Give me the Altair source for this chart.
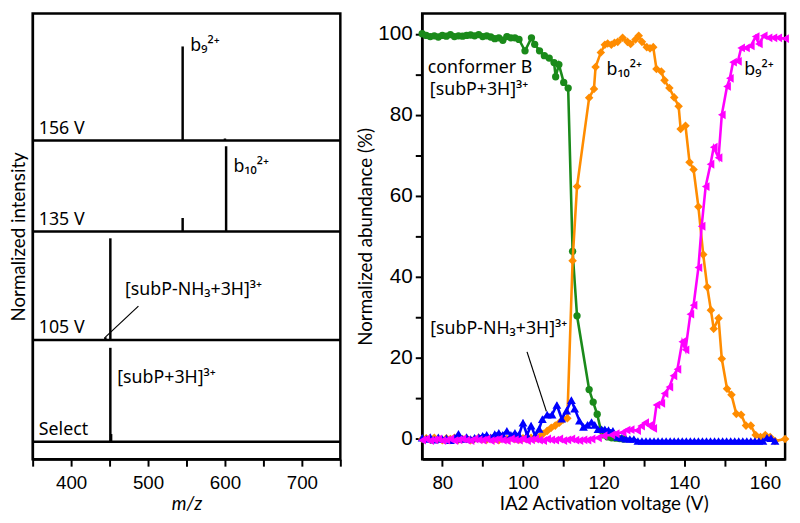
import altair as alt
import pandas as pd

# ---------------- Left panel: stacked mass spectra ----------------
panel_names = ["Select", "105 V", "135 V", "156 V"]
panel_base = [18, 123, 235, 329]          # stack offsets (arbitrary units)
stack_top = 460

peak_panel = ["Select", "Select", "105 V", "105 V", "135 V", "135 V", "156 V", "156 V"]
peak_mz = [451, 452, 451, 444.5, 601.5, 545, 545, 600]
peak_height = [97, 8, 105, 3, 88, 14, 97, 2]

# ---------------- Right panel: breakdown curves ----------------
green_v = [75, 76, 77, 78, 79, 80, 81, 82, 83, 84, 85, 86, 87, 88, 89, 90, 91, 92, 93, 94,
           95, 96, 97, 98, 99, 100.5, 102.1, 102.9, 104.1, 105.3, 106.5, 107.7, 108.1, 108.9,
           110.1, 111.2, 112.3, 113.4, 116.4, 117.4, 118.4, 119.3, 120, 121, 122, 123, 124, 125]
green_y = [100, 99.6, 99.3, 99.5, 99.2, 99.6, 99.4, 99.8, 99.3, 99.5, 99.4, 99.6, 99.7, 99.5,
           99.8, 99.3, 99.5, 99.2, 98.8, 99.0, 98.4, 99.3, 99.0, 99.0, 98.6, 95.8, 99.0, 97.4,
           95.8, 94.6, 94.0, 92.9, 89.4, 92.4, 88.0, 86.6, 46.3, 30.4, 12.2, 9.1, 6.1, 2.2, 1.0,
           0.5, 0.3, 0.2, 0.1, 0]

orange_v = [75, 76, 77, 78, 79, 80, 81, 82, 83, 84, 85, 86, 87, 88, 89, 90, 91, 92, 93, 94,
            95, 96, 97, 98, 99, 100, 101, 102, 103, 104, 105, 106, 107, 108, 109, 110, 111,
            112.3, 113.4, 116.4, 117.6, 118, 119.3, 120.3, 121, 121.9, 122.7, 123.5, 124.7,
            125.9, 126.7, 127.9, 128.7, 129.5, 130.7, 131.5, 132.3, 133.1, 134.3, 135.1, 136.3,
            137.5, 138.6, 139.1, 140.3, 141.3, 142.3, 143.5, 144.7, 145.7, 146.6, 147.3, 148.5,
            149.3, 150.6, 151.7, 152.9, 154.1, 155.3, 156.5, 157.7, 158.9, 160.1, 161.3, 162.5, 165]
orange_y = [0, 0.2, -0.2, 0.3, 0, -0.3, 0.2, 0, 0.3, -0.2, 0, 0.2, -0.3, 0, 0.3, 0, -0.2, 0.2,
            0, -0.3, 0.2, 0, 0.3, 0, -0.2, 0.2, 0, 0.3, 0.2, 0.5, 1.3, 2.0, 2.8, 3.3, 4.0, 4.8, 5.1,
            44, 62.3, 84.2, 86.4, 91.8, 95.4, 97.3, 97.6, 97.3, 97.8, 98, 99, 98, 97.5, 98.6, 99.5,
            98, 96.7, 96.4, 96.7, 91.3, 90.7, 88.5, 86.6, 84.3, 82.1, 76.5, 77.3, 68.3, 66.5,
            57.3, 45.5, 37.5, 31.8, 27.2, 29.8, 19.8, 12.4, 10.9, 6.2, 6.0, 3.3, 3.3, 1.0, 0.5,
            1.0, 0.5, -0.5, 0]

blue_v = [75, 76, 77, 78, 79, 80, 81, 82, 83, 84, 85, 86, 87, 88, 89, 90, 91, 92, 93, 94, 95,
          96, 97, 98, 99, 100, 101, 102, 103, 104, 104.8, 106, 107.2, 108.4, 109.6, 110.8, 112,
          112.8, 114, 115, 116, 117, 117.8, 118.6, 119.5, 120.3, 121.2, 122.3, 123.5, 124.5,
          125.5, 126.5, 127.5, 128.5, 129.5, 130.5, 131.5, 132.5, 133.5, 134.5, 135.5, 136.5,
          137.5, 138.5, 139.5, 140.5, 141.5, 142.5, 143.5, 144.5, 145.5, 146.5, 147.5, 148.5,
          149.5, 150.5, 151.5, 152.5, 153.5, 154.5, 155.5, 156.5, 157.5, 158.5, 159.5, 160.5,
          161.5, 162.5]
blue_y = [0.3, 0, 0.5, -0.2, 0.4, 0, 0.2, -0.3, 0.3, 1.3, 0, 0.5, 0, 0.3, 0.5, 0.8, 1.0, 0.4,
          1.2, 1.5, 1.0, 2.0, 1.0, 1.5, 1.0, 4.0, 1.0, 3.3, 0.8, 2.5, 4.9, 6.0, 6.0, 8.4, 5.0, 7.0,
          9.6, 7.5, 4.5, 3.0, 3.5, 4.2, 3.5, 2.4, 2.4, 2.4, 2.2, 2.0, 0.5, 0.3, 0.1, 0, 0, -0.5,
          -0.5, -0.5, -0.5, -0.5, -0.5, -0.5, -0.5, -0.5, -0.5, -0.5, -0.5, -0.5, -0.5, -0.5,
          -0.5, -0.5, -0.5, -0.5, -0.5, -0.5, -0.5, -0.5, -0.5, -0.5, -0.5, -0.5, -0.5, -0.5,
          -0.5, -0.5, -0.5, 0.3, 0.2, -0.5]

magenta_v = [75, 76, 77, 78, 79, 80, 81, 82, 83, 84, 85, 86, 87, 88, 89, 90, 91, 92, 93, 94,
             95, 96, 97, 98, 99, 100, 101, 102, 103, 104, 105, 106, 107, 108, 109, 110, 111, 112,
             113, 114, 115, 116, 117, 118.6, 120, 121.9, 123, 124.7, 125.7, 126.7, 128.3, 129.3,
             130.3, 131.3, 132.3, 133.1, 134.3, 135.1, 136.3, 137.3, 138.3, 139.5, 140.3, 141.5,
             142.3, 143.5, 144.3, 145.3, 146.5, 147.3, 148.5, 149.3, 150.6, 151.3, 152.1, 153.3,
             154.1, 155.3, 156.5, 157.7, 158.5, 159.7, 160.9, 162.1, 163.3, 165]
magenta_y = [-0.3, 0, -0.4, -0.2, 0, -0.4, -0.3, 0, -0.4, -0.2, 0, -0.3, -0.4, 0, -0.2, -0.3,
             0, -0.4, -0.2, 0, -0.3, -0.4, 0, -0.2, -0.3, 0, -0.4, -0.2, 0, -0.3, -0.4, 0, -0.2,
             -0.3, 0, -0.4, -0.2, 0, -0.3, -0.4, -0.2, -0.3, 0, 0.3, 0.8, 1.0, 1.3, 1.6, 2.2, 2.3,
             2.1, 3.2, 4.0, 3.3, 2.6, 8.4, 8.8, 11.2, 12.8, 15.6, 17.2, 24, 22, 30.8, 33, 42.3,
             52.5, 62.3, 67.8, 72, 69.4, 80, 87, 89, 93, 93.2, 96.5, 96.5, 97, 99.3, 97.5, 99.5,
             99, 99, 99, 98.8]

FONT_TICK = "Liberation Sans"
FONT_TEXT = "Noto Sans"
FONT_TITLE = "Lato"

# ---------------- build left chart ----------------
base_lookup = dict(zip(panel_names, panel_base))
peaks = pd.DataFrame({
    "mz": peak_mz,
    "y0": [base_lookup[p] for p in peak_panel],
})
peaks["y1"] = peaks["y0"] + pd.Series(peak_height)

lines_df = pd.DataFrame({"y": panel_base})
panel_lbl = pd.DataFrame({"text": panel_names, "mz": [358] * 4,
                          "y": [b + 3 for b in panel_base]})

lx_scale = alt.Scale(domain=[350, 750], nice=False, zero=False)
lx_axis = alt.Axis(values=[350, 400, 450, 500, 550, 600, 650, 700, 750],
                   labelExpr="datum.value % 100 == 0 ? datum.label : ''",
                   labelOverlap=False,
                   title="m/z", titleFontStyle="italic", grid=False)
ly_scale = alt.Scale(domain=[0, stack_top], nice=False, zero=False)
ly_axis = alt.Axis(title="Normalized intensity", labels=False, ticks=False, grid=False,
                   titlePadding=4)


def LX(field):
    return alt.X(field, scale=lx_scale, axis=lx_axis)


def LY(field):
    return alt.Y(field, scale=ly_scale, axis=ly_axis)


W_L, W_R, H = 312, 368, 452

sep = alt.Chart(lines_df).mark_rule(color="black", strokeWidth=2.5).encode(y=LY("y:Q"))
pk = alt.Chart(peaks).mark_rule(color="black", strokeWidth=2.5).encode(
    x=LX("mz:Q"), y=LY("y0:Q"), y2="y1:Q")
plbl = alt.Chart(panel_lbl).mark_text(align="left", baseline="bottom", font=FONT_TEXT,
                                      fontSize=18, color="black").encode(
    x=LX("mz:Q"), y=LY("y:Q"), text="text:N")

left_ann = pd.DataFrame({
    "text": ["b₉²⁺", "b₁₀²⁺", "[subP-NH₃+3H]³⁺", "[subP+3H]³⁺"],
    "mz": [555, 611, 470, 460],
    "y": [426, 302, 175, 84],
})
lann = alt.Chart(left_ann).mark_text(align="left", baseline="middle", font=FONT_TEXT,
                                     fontSize=18, color="black").encode(
    x=LX("mz:Q"), y=LY("y:Q"), text="text:N")
left_lead = pd.DataFrame({"mz": [487.5, 444.5], "y": [158, 126]})
llead = alt.Chart(left_lead).mark_line(color="black", strokeWidth=1.2).encode(
    x=LX("mz:Q"), y=LY("y:Q"))

left = alt.layer(sep, pk, plbl, lann, llead).properties(width=W_L, height=H)

# ---------------- build right chart ----------------
rx_scale = alt.Scale(domain=[75, 165], nice=False, zero=False)
rx_axis = alt.Axis(values=list(range(80, 170, 10)),
                   labelExpr="datum.value % 20 == 0 ? datum.label : ''",
                   labelOverlap=False,
                   title="IA2 Activation voltage (V)", grid=False)
ry_scale = alt.Scale(domain=[-5, 105], nice=False, zero=False)
ry_axis = alt.Axis(values=list(range(0, 110, 10)),
                   labelExpr="datum.value % 20 == 0 ? datum.label : ''",
                   labelOverlap=False, labelPadding=3,
                   title="Normalized abundance (%)", grid=False, labelFontSize=21)


def series(v, y, color, shape, size):
    df = pd.DataFrame({"v": v, "y": y})
    return alt.Chart(df).mark_line(
        color=color, strokeWidth=2.6,
        point=alt.OverlayMarkDef(filled=True, color=color, shape=shape, size=size),
    ).encode(
        x=alt.X("v:Q", scale=rx_scale, axis=rx_axis),
        y=alt.Y("y:Q", scale=ry_scale, axis=ry_axis),
        order="v:Q",
    )


g = series(green_v, green_y, "#1a8a1a", "circle", 55)
o = series(orange_v, orange_y, "#ff8c00", "diamond", 75)
b = series(blue_v, blue_y, "#0000ff", "triangle-up", 80)
m = series(magenta_v, magenta_y, "#ff00ff", "triangle-left", 80)

right_ann = pd.DataFrame({
    "text": ["conformer B", "[subP+3H]³⁺", "b₁₀²⁺", "b₉²⁺", "[subP-NH₃+3H]³⁺"],
    "v": [76.4, 76.9, 120.7, 154.9, 77.0],
    "y": [91.5, 86.0, 91.0, 91.0, 27.2],
})
rann = alt.Chart(right_ann).mark_text(align="left", baseline="middle", font=FONT_TEXT,
                                      fontSize=18, color="black").encode(
    x=alt.X("v:Q", scale=rx_scale, axis=rx_axis),
    y=alt.Y("y:Q", scale=ry_scale, axis=ry_axis), text="text:N")
right_lead = pd.DataFrame({"v": [101, 105.8], "y": [21.5, 6.8]})
rlead = alt.Chart(right_lead).mark_line(color="black", strokeWidth=1.2).encode(
    x=alt.X("v:Q", scale=rx_scale, axis=rx_axis),
    y=alt.Y("y:Q", scale=ry_scale, axis=ry_axis))

right = alt.layer(g, o, b, m, rann, rlead).properties(width=W_R, height=H)

chart = alt.hconcat(left, right, spacing=12).properties(padding=0).configure_view(
    stroke="black", strokeWidth=2.5
).configure_axis(
    domainColor="black", domainWidth=2, tickColor="black", tickWidth=2, tickSize=7,
    labelFont=FONT_TICK, labelFontSize=19, labelColor="black", labelPadding=8,
    titleFont=FONT_TITLE, titleFontSize=19, titleFontWeight="normal", titleColor="black",
    titlePadding=2,
)

chart.save("out.html", embed_options={"renderer": "svg", "actions": False})
